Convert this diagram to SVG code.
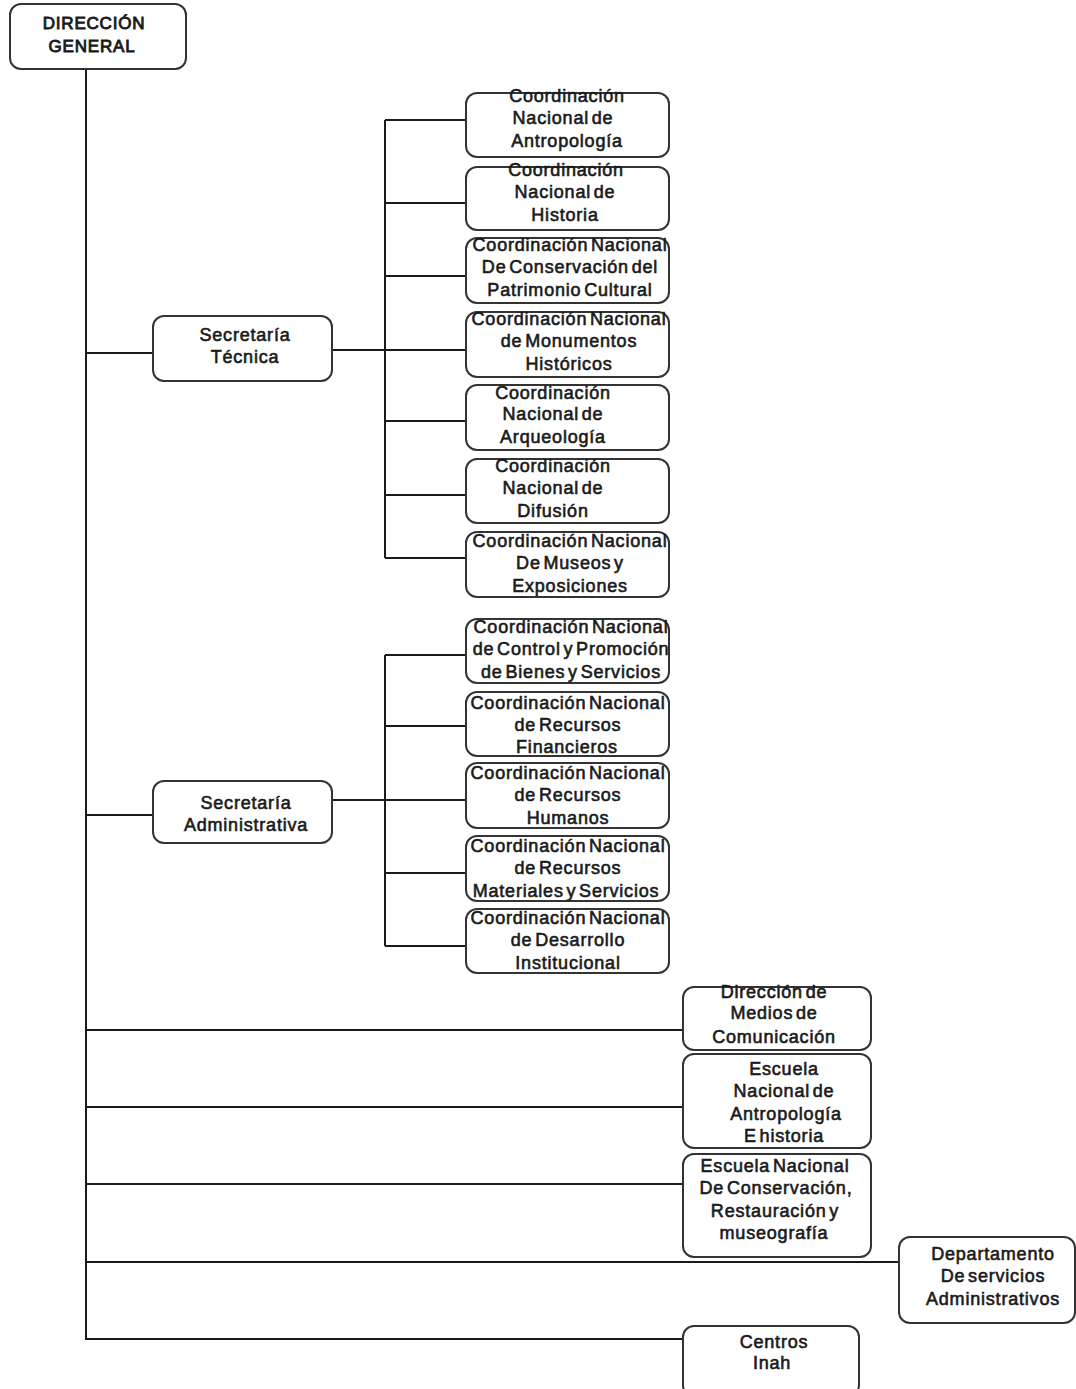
<svg xmlns="http://www.w3.org/2000/svg" width="1076" height="1389" viewBox="0 0 1076 1389">
<style>
.box{fill:#fff;stroke:#333;stroke-width:2}
.ln{fill:none;stroke:#1a1a1a;stroke-width:2}
text{font-family:"Liberation Sans",Arial,sans-serif;font-size:18px;fill:#1a1a1a;stroke:#1a1a1a;stroke-width:0.6;text-anchor:middle;letter-spacing:0.8px;word-spacing:-3px}
.hd{stroke-width:0.9;font-size:17px}
</style>
<rect width="1076" height="1389" fill="#fff"/>
<g id="connectors">
<path class="ln" d="M86 69V1339H683"/>
<path class="ln" d="M86 353H153M86 815H153M86 1030H683M86 1107H683M86 1184H683M86 1262H899"/>
<path class="ln" d="M332 350H385M385 120V558M385 120H466M385 203H466M385 276H466M385 350H466M385 421H466M385 495H466M385 558H466"/>
<path class="ln" d="M332 800H385M385 655V946M385 655H466M385 726H466M385 800H466M385 873H466M385 946H466"/>
</g>
<g id="direccion-general"><rect class="box" x="10" y="4" width="176" height="65" rx="11"/><text class="hd" x="94" y="29">DIRECCIÓN</text><text class="hd" x="92" y="52">GENERAL</text></g>
<g id="sec-tecnica"><rect class="box" x="153" y="316" width="179" height="65" rx="11"/><text x="245" y="341">Secretaría</text><text x="245" y="363">Técnica</text></g>
<g id="sec-admin"><rect class="box" x="153" y="781" width="179" height="62" rx="11"/><text x="246" y="809">Secretaría</text><text x="246" y="831">Administrativa</text></g>
<g id="cn-antropologia"><rect class="box" x="466" y="93" width="203" height="64" rx="11"/><text x="567" y="102">Coordinación</text><text x="563" y="124">Nacional de</text><text x="567" y="147">Antropología</text></g>
<g id="cn-historia"><rect class="box" x="466" y="167" width="203" height="63" rx="11"/><text x="566" y="176">Coordinación</text><text x="565" y="198">Nacional de</text><text x="565" y="221">Historia</text></g>
<g id="cn-conservacion"><rect class="box" x="466" y="238" width="203" height="65" rx="11"/><text x="570" y="251">Coordinación Nacional</text><text x="570" y="273">De Conservación del</text><text x="570" y="296">Patrimonio Cultural</text></g>
<g id="cn-monumentos"><rect class="box" x="466" y="312" width="203" height="65" rx="11"/><text x="569" y="325">Coordinación Nacional</text><text x="569" y="347">de Monumentos</text><text x="569" y="370">Históricos</text></g>
<g id="cn-arqueologia"><rect class="box" x="466" y="385" width="203" height="65" rx="11"/><text x="553" y="399">Coordinación</text><text x="553" y="420">Nacional de</text><text x="553" y="443">Arqueología</text></g>
<g id="cn-difusion"><rect class="box" x="466" y="459" width="203" height="64" rx="11"/><text x="553" y="472">Coordinación</text><text x="553" y="494">Nacional de</text><text x="553" y="517">Difusión</text></g>
<g id="cn-museos"><rect class="box" x="466" y="532" width="203" height="65" rx="11"/><text x="570" y="547">Coordinación Nacional</text><text x="570" y="569">De Museos y</text><text x="570" y="592">Exposiciones</text></g>
<g id="cn-control"><rect class="box" x="466" y="619" width="203" height="64" rx="11"/><text x="571" y="633">Coordinación Nacional</text><text x="571" y="655">de Control y Promoción</text><text x="571" y="678">de Bienes y Servicios</text></g>
<g id="cn-financieros"><rect class="box" x="466" y="692" width="203" height="64" rx="11"/><text x="568" y="709">Coordinación Nacional</text><text x="568" y="731">de Recursos</text><text x="567" y="753">Financieros</text></g>
<g id="cn-humanos"><rect class="box" x="466" y="763" width="203" height="65" rx="11"/><text x="568" y="779">Coordinación Nacional</text><text x="568" y="801">de Recursos</text><text x="568" y="824">Humanos</text></g>
<g id="cn-materiales"><rect class="box" x="466" y="836" width="203" height="65" rx="11"/><text x="568" y="852">Coordinación Nacional</text><text x="568" y="874">de Recursos</text><text x="566" y="897">Materiales y Servicios</text></g>
<g id="cn-desarrollo"><rect class="box" x="466" y="909" width="203" height="64" rx="11"/><text x="568" y="924">Coordinación Nacional</text><text x="568" y="946">de Desarrollo</text><text x="568" y="969">Institucional</text></g>
<g id="dir-medios"><rect class="box" x="683" y="987" width="188" height="63" rx="11"/><text x="774" y="998">Dirección de</text><text x="774" y="1019">Medios de</text><text x="774" y="1043">Comunicación</text></g>
<g id="enah"><rect class="box" x="683" y="1054" width="188" height="94" rx="11"/><text x="784" y="1075">Escuela</text><text x="784" y="1097">Nacional de</text><text x="786" y="1120">Antropología</text><text x="784" y="1142">E historia</text></g>
<g id="encrym"><rect class="box" x="683" y="1154" width="188" height="103" rx="11"/><text x="775" y="1172">Escuela Nacional</text><text x="776" y="1194">De Conservación,</text><text x="775" y="1217">Restauración y</text><text x="774" y="1239">museografía</text></g>
<g id="depto-servicios"><rect class="box" x="899" y="1237" width="176" height="86" rx="11"/><text x="993" y="1260">Departamento</text><text x="993" y="1282">De servicios</text><text x="993" y="1305">Administrativos</text></g>
<g id="centros-inah"><rect class="box" x="683" y="1326" width="176" height="70" rx="11"/><text x="774" y="1348">Centros</text><text x="772" y="1369">Inah</text></g>
</svg>
